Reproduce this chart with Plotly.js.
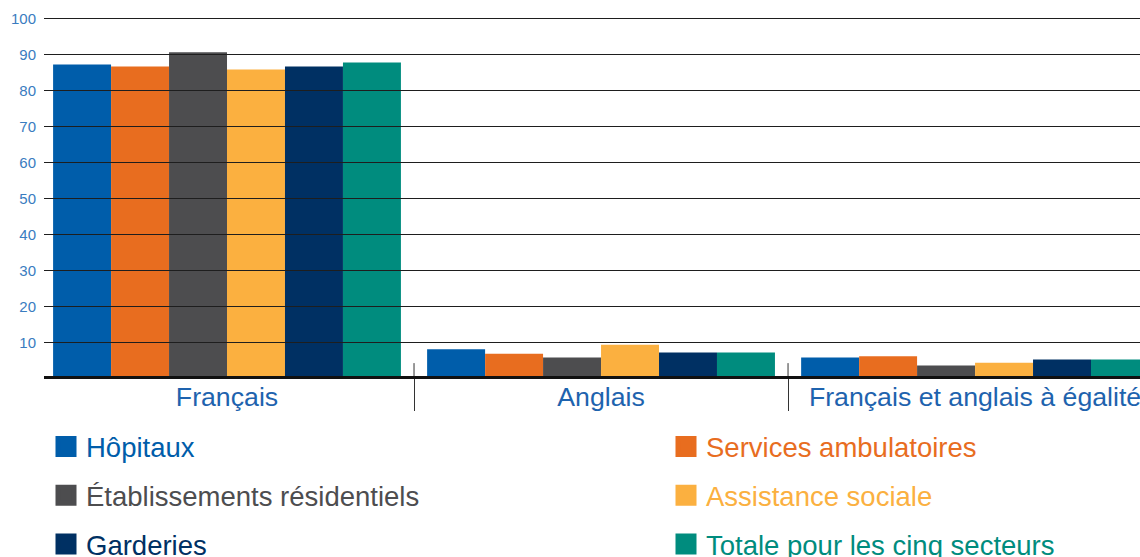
<!DOCTYPE html>
<html>
<head>
<meta charset="utf-8">
<script src="https://cdn.plot.ly/plotly-3.0.1.min.js"></script>
<style>html,body{margin:0;padding:0;background:#fff;}#chart{width:1140px;height:557px;}</style>
</head>
<body>
<div id="chart"></div>
<script>
const categories = ["Français", "Anglais", "Français et anglais à égalité"];
const seriesNames = ["Hôpitaux", "Services ambulatoires", "Établissements résidentiels", "Assistance sociale", "Garderies", "Totale pour les cinq secteurs"];
const hopitaux = [87.2, 8.1, 5.8];
const servicesAmbulatoires = [86.7, 6.9, 6.2];
const etablissementsResidentiels = [90.6, 5.8, 3.6];
const assistanceSociale = [85.8, 9.4, 4.4];
const garderies = [86.7, 7.2, 5.3];
const totale = [87.8, 7.2, 5.3];
const seriesValues = [hopitaux, servicesAmbulatoires, etablissementsResidentiels, assistanceSociale, garderies, totale];
const colors = ["#005DAA", "#E86D1F", "#4D4D4F", "#FBB040", "#003063", "#008C7E"];
const yTicks = [10, 20, 30, 40, 50, 60, 70, 80, 90, 100];
const legendColumn = ["legend", "legend2", "legend", "legend2", "legend", "legend2"];

const FONT = "Liberation Sans, Arial, sans-serif";
const traces = [];
seriesValues.forEach((vals, i) => {
  traces.push({
    type: "bar", x: categories, y: vals, name: seriesNames[i],
    marker: {color: colors[i], line: {width: 0}},
    showlegend: false, hoverinfo: "x+y+name"
  });
});
seriesValues.forEach((vals, i) => {
  traces.push({
    type: "scatter", mode: "markers", x: [null], y: [null],
    name: '<span style="color:' + colors[i] + '">' + seriesNames[i] + '</span>',
    marker: {symbol: "square", size: 16, color: colors[i], line: {color: colors[i], width: 5}},
    legend: legendColumn[i], legendgroup: "g" + i, showlegend: true
  });
});

const shapes = yTicks.map(v => ({
  type: "line", xref: "paper", x0: 0, x1: 1, yref: "y", y0: v, y1: v,
  line: {color: "#1e1e1e", width: 1}, layer: "above"
}));
// category dividers extend slightly above the baseline
categories.slice(1).forEach((c, i) => {
  shapes.push({
    type: "line", xref: "x", x0: i + 0.5, x1: i + 0.5, yref: "paper", y0: 0, y1: 0.036,
    line: {color: "#333", width: 1}, layer: "above"
  });
});

const legendBase = {
  orientation: "v", xref: "container", yref: "container", yanchor: "top", xanchor: "left",
  font: {family: FONT, size: 27.5}, tracegroupgap: 10, bgcolor: "rgba(0,0,0,0)",
  borderwidth: 0, itemclick: false, itemdoubleclick: false
};

const layout = {
  width: 1140, height: 557,
  margin: {l: 44, r: 0, t: 18, b: 181, pad: 0, autoexpand: false},
  paper_bgcolor: "#fff", plot_bgcolor: "#fff",
  barmode: "group", bargap: 0.07, bargroupgap: 0,
  font: {family: FONT},
  xaxis: {
    type: "category", range: [-0.4893, 2.441], showgrid: false, automargin: false,
    showline: true, linecolor: "#111", linewidth: 2.5, layer: "above traces",
    ticks: "outside", tickson: "boundaries", ticklen: 32, tickcolor: "#333", tickwidth: 1,
    ticklabelstandoff: -5, tickangle: 0,
    tickfont: {family: FONT, size: 26.7, color: "#1E63AE"}, fixedrange: true
  },
  yaxis: {
    range: [0.694, 100.139], tickvals: yTicks, showgrid: false, zeroline: false, showline: false,
    ticks: "", ticklabelstandoff: 7, automargin: false,
    tickfont: {family: FONT, size: 15, color: "#3A7CC0"}, fixedrange: true
  },
  shapes: shapes,
  showlegend: true,
  legend: Object.assign({}, legendBase, {x: 46/1140, y: 1 - 422/557}),
  legend2: Object.assign({}, legendBase, {x: 666/1140, y: 1 - 422/557})
};

Plotly.newPlot("chart", traces, layout, {displayModeBar: false, staticPlot: true});
</script>
</body>
</html>
